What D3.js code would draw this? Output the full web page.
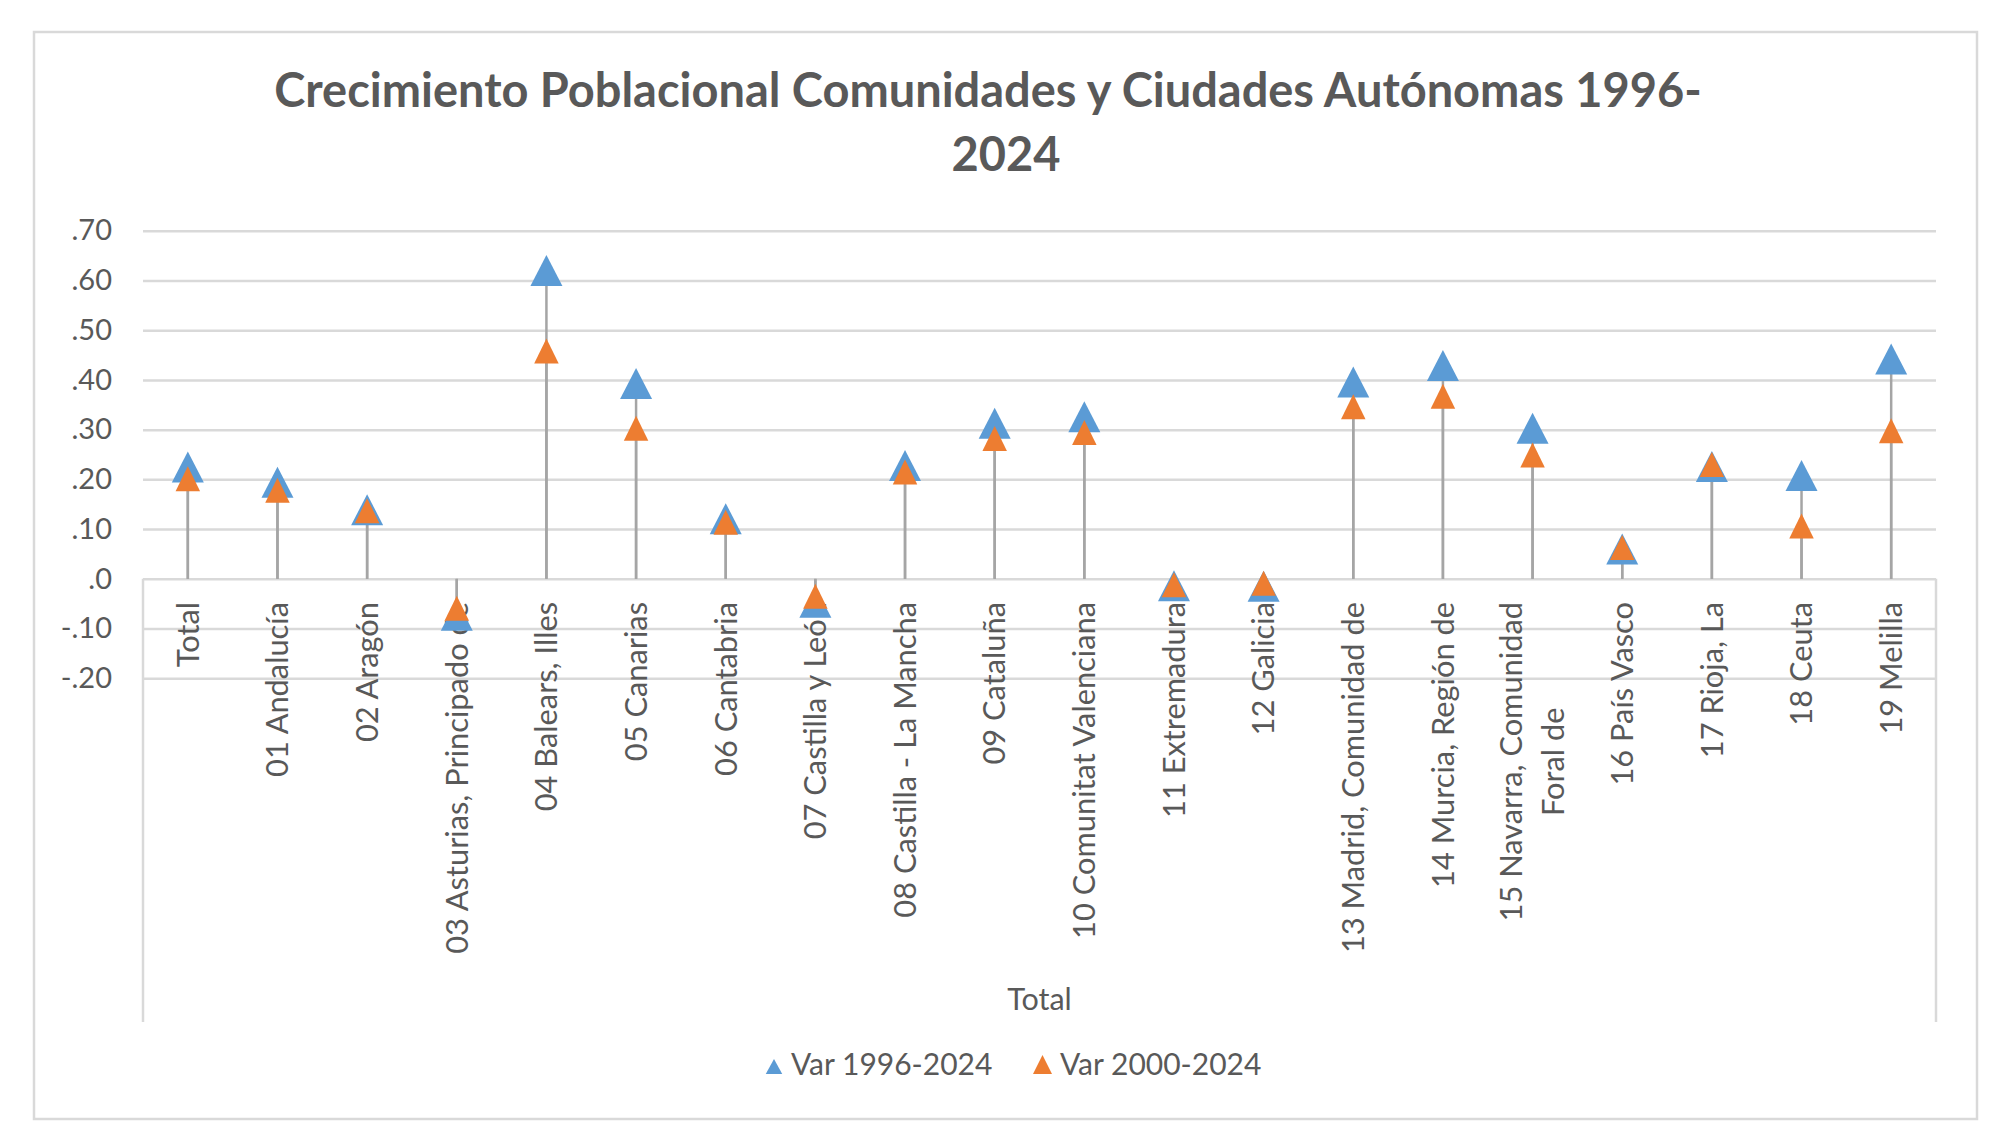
<!DOCTYPE html>
<html>
<head>
<meta charset="utf-8">
<script src="https://cdn.jsdelivr.net/npm/d3@7"></script>
<style>
  html, body { margin: 0; padding: 0; background: #fff; }
  svg text { font-family: "Lato", "Open Sans", sans-serif; fill: #595959; }
</style>
</head>
<body>
<svg id="chart" width="1999" height="1144"></svg>
<script>
// ---------- data ----------
const titleLines = ["Crecimiento Poblacional Comunidades y Ciudades Autónomas 1996-", "2024"];
const categories = [
  "Total", "01 Andalucía", "02 Aragón", "03 Asturias, Principado de", "04 Balears, Illes",
  "05 Canarias", "06 Cantabria", "07 Castilla y León", "08 Castilla - La Mancha", "09 Cataluña",
  "10 Comunitat Valenciana", "11 Extremadura", "12 Galicia", "13 Madrid, Comunidad de",
  "14 Murcia, Región de", "15 Navarra, Comunidad\nForal de", "16 País Vasco", "17 Rioja, La",
  "18 Ceuta", "19 Melilla"
];
const seriesNames = ["Var 1996-2024", "Var 2000-2024"];
const var1996 = [0.225, 0.194, 0.139, -0.073, 0.620, 0.393, 0.121, -0.047, 0.228, 0.313,
                 0.326, -0.014, -0.015, 0.396, 0.429, 0.303, 0.060, 0.226, 0.208, 0.442];
const var2000 = [0.201, 0.178, 0.137, -0.059, 0.458, 0.303, 0.114, -0.035, 0.215, 0.282,
                 0.294, -0.012, -0.009, 0.346, 0.367, 0.249, 0.063, 0.230, 0.106, 0.298];
const tickValues = [0.7, 0.6, 0.5, 0.4, 0.3, 0.2, 0.1, 0, -0.1, -0.2];
const tickLabels = [".70", ".60", ".50", ".40", ".30", ".20", ".10", ".0", "-.10", "-.20"];
const axisTitle = "Total";

// ---------- layout ----------
const colors = ["#5B9BD5", "#ED7D31"];
const markerSize = [[32, 31], [24.5, 25]];
const legendMarker = [[16.5, 15], [19, 19]];
const plot = { left: 143, right: 1936, top: 230.7, bottom: 678.3 };
const boxBottom = 1022;

const svg = d3.select("#chart");

// chart border
svg.append("rect").attr("x", 34).attr("y", 32).attr("width", 1977 - 34).attr("height", 1119 - 32)
  .attr("fill", "#fff").attr("stroke", "#D9D9D9").attr("stroke-width", 2.5);

const x = d3.scaleBand().domain(categories).range([plot.left, plot.right]);
const y = d3.scaleLinear().domain([-0.2, 0.7]).range([plot.bottom, plot.top]);

// gridlines
const grid = svg.append("g").attr("transform", `translate(${plot.left},0)`)
  .call(d3.axisLeft(y).tickValues(tickValues).tickSize(-(plot.right - plot.left)).tickFormat(""));
grid.select(".domain").remove();
grid.selectAll("line").attr("stroke", "#D9D9D9").attr("stroke-width", 2.5);

// y axis labels
const yAx = svg.append("g").attr("transform", `translate(${plot.left},0)`)
  .call(d3.axisLeft(y).tickValues(tickValues).tickSize(0).tickPadding(31)
    .tickFormat((d, i) => tickLabels[i]));
yAx.select(".domain").remove();
yAx.selectAll("text").attr("font-size", 29).attr("fill", "#595959")
  .style("font-family", "Lato");

// category box verticals
[plot.left, plot.right].forEach(xx => {
  svg.append("line").attr("x1", xx).attr("x2", xx).attr("y1", y(0)).attr("y2", boxBottom)
    .attr("stroke", "#D9D9D9").attr("stroke-width", 2.5);
});

// category labels (rotated)
const labelTop = 602;
const lineGap = 42;
categories.forEach(c => {
  const lines = c.split("\n");
  const cx = x(c) + x.bandwidth() / 2;
  const g = svg.append("g");
  const texts = lines.map((ln, i) => g.append("text").text(ln).attr("font-size", 30.8));
  const maxLen = d3.max(texts, t => t.node().getComputedTextLength());
  const n = lines.length;
  texts.forEach((t, i) => {
    const off = (i - (n - 1) / 2) * lineGap;
    const px = cx + off;
    const py = labelTop + maxLen / 2;
    t.attr("text-anchor", "middle").attr("dy", "0.35em")
      .attr("transform", `translate(${px},${py}) rotate(-90)`);
  });
});

// axis title
svg.append("text").text(axisTitle).attr("x", (plot.left + plot.right) / 2).attr("y", 1010)
  .attr("text-anchor", "middle").attr("font-size", 30.5);

// drop lines
const series = [var1996, var2000];
series.forEach(vals => {
  svg.append("g").selectAll("line").data(categories).join("line")
    .attr("x1", d => x(d) + x.bandwidth() / 2).attr("x2", d => x(d) + x.bandwidth() / 2)
    .attr("y1", y(0)).attr("y2", (d, i) => y(vals[i]))
    .attr("stroke", "#A5A5A5").attr("stroke-width", 2.5);
});

function tri(w, h) {
  return `M0,${-h / 2}L${w / 2},${h / 2}L${-w / 2},${h / 2}Z`;
}

// markers
series.forEach((vals, s) => {
  svg.append("g").selectAll("path").data(categories).join("path")
    .attr("d", tri(markerSize[s][0], markerSize[s][1]))
    .attr("transform", (d, i) => `translate(${x(d) + x.bandwidth() / 2},${y(vals[i])})`)
    .attr("fill", colors[s]);
});

// title
const tg = svg.append("g");
const t1 = tg.append("text").text(titleLines[0]).attr("font-size", 47).attr("font-weight", 700)
  .attr("text-anchor", "middle");
const t2 = tg.append("text").text(titleLines[1]).attr("font-size", 47).attr("font-weight", 700)
  .attr("text-anchor", "middle");
const w1 = t1.node().getComputedTextLength();
const sx = 1428 / w1;
t1.attr("transform", `translate(988,107.3) scale(${sx},1)`);
t2.attr("transform", `translate(1006,170.7) scale(${sx},1)`);

// legend
const legX = [774, 1042.5];
const legTextX = [791, 1060];
seriesNames.forEach((nm, s) => {
  svg.append("path").attr("d", tri(legendMarker[s][0], legendMarker[s][1]))
    .attr("transform", `translate(${legX[s]},${1074 - legendMarker[s][1] / 2})`)
    .attr("fill", colors[s]);
  svg.append("text").text(nm).attr("x", legTextX[s]).attr("y", 1075).attr("font-size", 30);
});
</script>
</body>
</html>
